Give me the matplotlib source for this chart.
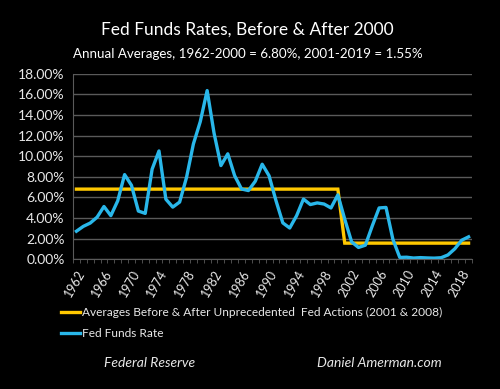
import matplotlib
matplotlib.use("Agg")
import matplotlib.pyplot as plt
import matplotlib.ticker as mticker
import numpy as np

plt.rcParams["font.family"] = ["Lato", "DejaVu Sans"]

# annual averages, 1962-2019
years = list(range(1962, 2020))
fed_funds = [
    2.71, 3.18, 3.50, 4.07, 5.11, 4.22, 5.66, 8.21, 7.17, 4.67,
    4.44, 8.74, 10.51, 5.82, 5.05, 5.54, 7.93, 11.19, 13.36, 16.38,
    12.26, 9.09, 10.23, 8.10, 6.81, 6.66, 7.57, 9.22, 8.10, 5.69,
    3.52, 3.02, 4.21, 5.83, 5.30, 5.46, 5.35, 4.97, 6.24, 3.88,
    1.67, 1.13, 1.35, 3.22, 4.97, 5.02, 1.92, 0.16, 0.18, 0.10,
    0.14, 0.11, 0.09, 0.13, 0.40, 1.00, 1.83, 2.16,
]
avg_before = 6.80   # 1962-2000
avg_after = 1.55    # 2001-2019
averages = [avg_before if y <= 2000 else avg_after for y in years]
label_years = years[::4]

BLUE = "#29b7ea"
GOLD = "#ffc800"
GRID = "#5a5a5a"
TEXT = "#e8e8e8"

fig = plt.figure(figsize=(5, 3.89), dpi=100, facecolor="black")
ax = fig.add_axes([0.146, 0.334, 0.798, 0.476], facecolor="black")

x = np.arange(len(years))
ax.plot(x, averages, color=GOLD, lw=2.4, solid_joinstyle="miter",
        label="Averages Before & After Unprecedented  Fed Actions (2001 & 2008)")
ax.plot(x, fed_funds, color=BLUE, lw=2.4, label="Fed Funds Rate")

ax.set_xlim(-0.5, len(years) - 0.5)
ax.set_ylim(0, 18)
ax.yaxis.set_major_locator(mticker.MultipleLocator(2))
ax.yaxis.set_major_formatter(mticker.FuncFormatter(lambda v, _: f"{v:.2f}%"))
ax.grid(axis="y", color=GRID, lw=1)
ax.set_axisbelow(True)

ax.set_xticks([years.index(y) for y in label_years])
ax.set_xticklabels([str(y) for y in label_years], rotation=60, ha="right",
                   rotation_mode="anchor")
ax.set_xticks(np.arange(-0.5, len(years)), minor=True)
ax.tick_params(axis="x", which="major", length=0, pad=6, colors=TEXT, labelsize=9)
ax.tick_params(axis="x", which="minor", length=3, color=GRID, direction="out")
ax.tick_params(axis="y", length=0, pad=6, colors=TEXT, labelsize=10)

for side in ["top", "right"]:
    ax.spines[side].set_visible(False)
for side in ["left", "bottom"]:
    ax.spines[side].set_color(GRID)

fig.text(0.494, 0.925, "Fed Funds Rates, Before & After 2000", color="white",
         fontsize=12.5, ha="center", va="center")
fig.text(0.495, 0.862, "Annual Averages, 1962-2000 = 6.80%, 2001-2019 = 1.55%",
         color="white", fontsize=9.6, ha="center", va="center")

leg = fig.legend(loc="upper left", bbox_to_anchor=(0.112, 0.224), frameon=False,
                 fontsize=8.6, labelcolor=TEXT, handlelength=1.6,
                 handletextpad=0.15, borderaxespad=0, labelspacing=0.9)

fig.text(0.30, 0.068, "Federal Reserve", color=TEXT, fontsize=10,
         style="italic", ha="center", va="center")
fig.text(0.759, 0.068, "Daniel Amerman.com", color=TEXT, fontsize=10,
         style="italic", ha="center", va="center")

fig.savefig("out.png", dpi=100, facecolor="black")
